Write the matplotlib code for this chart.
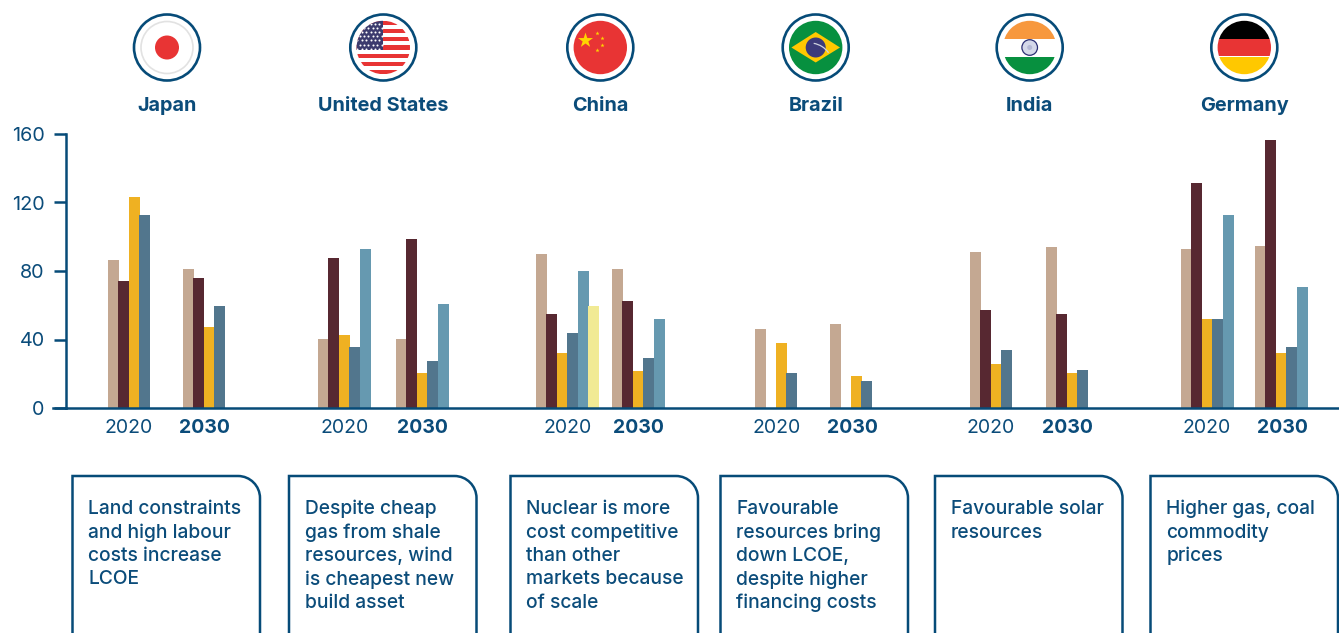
"""
LCOE by market, 2020 vs 2030
Run: python plot.py
"""

import numpy as np
import matplotlib
matplotlib.use('Agg')
import matplotlib.pyplot as plt
import matplotlib.patches as patches
from matplotlib.path import Path

plt.rcParams['font.family'] = ['Inter', 'DejaVu Sans']

W, H = 1339, 633
NAVY = '#064B78'
TEXT = '#0B4C7A'

countries = ['Japan', 'United States', 'China', 'Brazil', 'India', 'Germany']
years = ['2020', '2030']
yticks = [0, 40, 80, 120, 160]

nan = float('nan')
# one value per technology slot, 2020 then 2030 for each country
tan_vals = [86.6, 81.4, 40.5, 40.5, 89.9, 81.2, 46.1, 49.0, 91.3, 94.2, 93.0, 94.8]
maroon_vals = [74.4, 76.1, 87.8, 98.9, 54.9, 62.5, nan, nan, 57.4, 55.1, 131.6, 156.7]
gold_vals = [123.4, 47.5, 42.8, 20.6, 32.1, 21.6, 38.0, 18.7, 25.9, 20.6, 52.2, 32.3]
slate_vals = [112.9, 59.8, 35.8, 27.6, 43.8, 29.0, 20.4, 15.8, 34.1, 22.4, 52.2, 35.8]
blue_vals = [nan, nan, 93.0, 60.9, 80.0, 52.0, nan, nan, nan, nan, 112.9, 70.9]
yellow_vals = [nan, nan, nan, nan, 59.6, nan, nan, nan, nan, nan, nan, nan]

series = [tan_vals, maroon_vals, gold_vals, slate_vals, blue_vals, yellow_vals]
colors = ['#C4A892', '#572831', '#EFB122', '#52768D', '#6699B0', '#F1EA94']

notes = [
    'Land constraints\nand high labour\ncosts increase\nLCOE',
    'Despite cheap\ngas from shale\nresources, wind\nis cheapest new\nbuild asset',
    'Nuclear is more\ncost competitive\nthan other\nmarkets because\nof scale',
    'Favourable\nresources bring\ndown LCOE,\ndespite higher\nfinancing costs',
    'Favourable solar\nresources',
    'Higher gas, coal\ncommodity\nprices',
]

# layout, in reference pixels
group_left = [108, 183, 318, 396, 536, 612, 755, 830, 970, 1046, 1181, 1255]
year_x = [129, 204, 345, 422, 568, 638, 777, 852, 991, 1067, 1207, 1282]
flag_x = [167, 383.3, 600.3, 815.7, 1029.7, 1244.3]
box_left = [72.5, 289, 510.5, 720.5, 935, 1150.5]
BAR_W = 11
BAR_STEP = 10.45

fig = plt.figure(figsize=(W / 100, H / 100), dpi=100, facecolor='white')

# overlay in pixel coordinates for flags, labels and boxes
over = fig.add_axes([0, 0, 1, 1])
over.set_xlim(0, W)
over.set_ylim(H, 0)
over.axis('off')

# bar chart
ax = fig.add_axes([65.5 / W, 1 - 408 / H, (W - 65.5) / W, 274 / H])
ax.patch.set_alpha(0)
ax.set_xlim(65.5, W)
ax.set_ylim(0, 160)
for slot, (vals, col) in enumerate(zip(series, colors)):
    lefts = [g + slot * BAR_STEP for g in group_left]
    ax.bar(lefts, vals, width=BAR_W, align='edge', color=col, linewidth=0, zorder=2 + slot)

ax.spines['top'].set_visible(False)
ax.spines['right'].set_visible(False)
for side in ['left', 'bottom']:
    ax.spines[side].set_color(NAVY)
    ax.spines[side].set_linewidth(1.8)
    ax.spines[side].set_zorder(10)
ax.set_xticks([])
ax.set_yticks(yticks)
ax.tick_params(axis='y', length=9, width=1.8, color=NAVY, labelcolor=TEXT,
               labelsize=14.3, pad=6)
ax.plot([53, 65.5], [0, 0], color=NAVY, lw=1.8, clip_on=False, zorder=10)

# year labels under the axis
for i, x in enumerate(year_x):
    bold = i % 2 == 1
    over.text(x, 428, years[i % 2], ha='center', va='center', color=TEXT, fontsize=14,
              fontweight='bold' if bold else 'normal')


def flag_disc(cx, cy=47.5, r=26.7):
    """Clip circle for a flag, plus the navy ring around it"""
    ring = patches.Circle((cx, cy), 33, facecolor='white', edgecolor=NAVY, linewidth=1.9, zorder=3)
    over.add_patch(ring)
    clip = patches.Circle((cx, cy), r, transform=over.transData)
    return clip


def band(cx, y0, y1, color, clip, x0=-30, x1=30, cy=47.5):
    rect = patches.Rectangle((cx + x0, cy + y0), x1 - x0, y1 - y0, facecolor=color,
                             linewidth=0, zorder=4)
    over.add_patch(rect)
    rect.set_clip_path(clip)
    return rect


def draw_japan(cx):
    flag_disc(cx)
    over.add_patch(patches.Circle((cx, 47.5), 26, facecolor='white', edgecolor='#E2E2E2',
                                  linewidth=1.2, zorder=4))
    over.add_patch(patches.Circle((cx, 47.5), 12, facecolor='#E83434', linewidth=0, zorder=5))


def draw_usa(cx):
    clip = flag_disc(cx)
    r = 26.7
    edges = np.linspace(-r, r, 14)
    for i in range(13):
        band(cx, edges[i], edges[i + 1], '#E83434' if i % 2 == 0 else 'white', clip)
    canton = patches.Rectangle((cx - 30, 47.5 - 30), 30, 32, facecolor='#3C3B6E', linewidth=0, zorder=5)
    over.add_patch(canton)
    canton.set_clip_path(clip)
    sx, sy = [], []
    for row, dy in enumerate(np.arange(-24, 2, 4.2)):
        for dx in np.arange(-26 + (row % 2) * 2.2, -1, 4.4):
            sx.append(cx + dx)
            sy.append(47.5 + dy)
    stars = over.scatter(sx, sy, s=2.2, marker='o', color='white', linewidths=0, zorder=6)
    stars.set_clip_path(clip)


def draw_china(cx):
    clip = flag_disc(cx)
    band(cx, -30, 30, '#E83434', clip)
    over.scatter([cx - 15.3], [47.5 - 8], s=130, marker='*', color='#FFD400', linewidths=0, zorder=6)
    over.scatter([cx - 3, cx + 2, cx + 2, cx - 3], [32.5, 37.5, 44.5, 49.8], s=10, marker='*',
                 color='#FFD400', linewidths=0, zorder=6)


def draw_brazil(cx):
    clip = flag_disc(cx)
    band(cx, -30, 30, '#07903F', clip)
    over.add_patch(patches.Polygon([(cx - 24.3, 47.5), (cx, 32), (cx + 24.3, 47.5), (cx, 62.5)],
                                   facecolor='#FFC800', linewidth=0, zorder=5))
    over.add_patch(patches.Circle((cx, 47.5), 10, facecolor='#3C3B7A', linewidth=0, zorder=6))
    over.add_patch(patches.Arc((cx - 6, 66), 46, 46, theta1=-80, theta2=-35, color='#D0D4E0',
                               linewidth=0.9, zorder=7))


def draw_india(cx):
    clip = flag_disc(cx)
    band(cx, -30, -8.6, '#F7983E', clip)
    band(cx, 9, 30, '#07903F', clip)
    over.add_patch(patches.Circle((cx, 47.5), 7.8, facecolor='#D5D8EA', edgecolor='#2B2F74',
                                  linewidth=0.9, zorder=6))
    over.add_patch(patches.Circle((cx, 47.5), 2.5, facecolor='#B5B9D6', linewidth=0, zorder=7))


def draw_germany(cx):
    clip = flag_disc(cx)
    band(cx, -30, -8.6, 'black', clip)
    band(cx, -8.6, 9, '#E83434', clip)
    band(cx, 9, 30, '#FFC800', clip)


flag_funcs = [draw_japan, draw_usa, draw_china, draw_brazil, draw_india, draw_germany]
for name, x, draw in zip(countries, flag_x, flag_funcs):
    draw(x)
    over.text(x, 106, name, ha='center', va='center', color=TEXT, fontsize=14.3, fontweight='bold')

# note boxes run off the bottom of the picture
BOX_W = 187.5
RAD = 22
K = 0.45 * RAD
for left, note in zip(box_left, notes):
    right = left + BOX_W
    top = 476
    verts = [(left, H + 5), (left, top), (right - RAD, top), (right - K, top), (right, top + K),
             (right, top + RAD), (right, H + 5)]
    codes = [Path.MOVETO, Path.LINETO, Path.LINETO, Path.CURVE4, Path.CURVE4, Path.CURVE4, Path.LINETO]
    over.add_patch(patches.PathPatch(Path(verts, codes), facecolor='none', edgecolor=NAVY, linewidth=1.8))
    for i, line in enumerate(note.split('\n')):
        over.text(left + 16, 509 + i * 23.5, line, ha='left', va='center', color=TEXT, fontsize=13.85,
                  fontweight='medium')

plt.savefig('out.png', dpi=100)
plt.close()
